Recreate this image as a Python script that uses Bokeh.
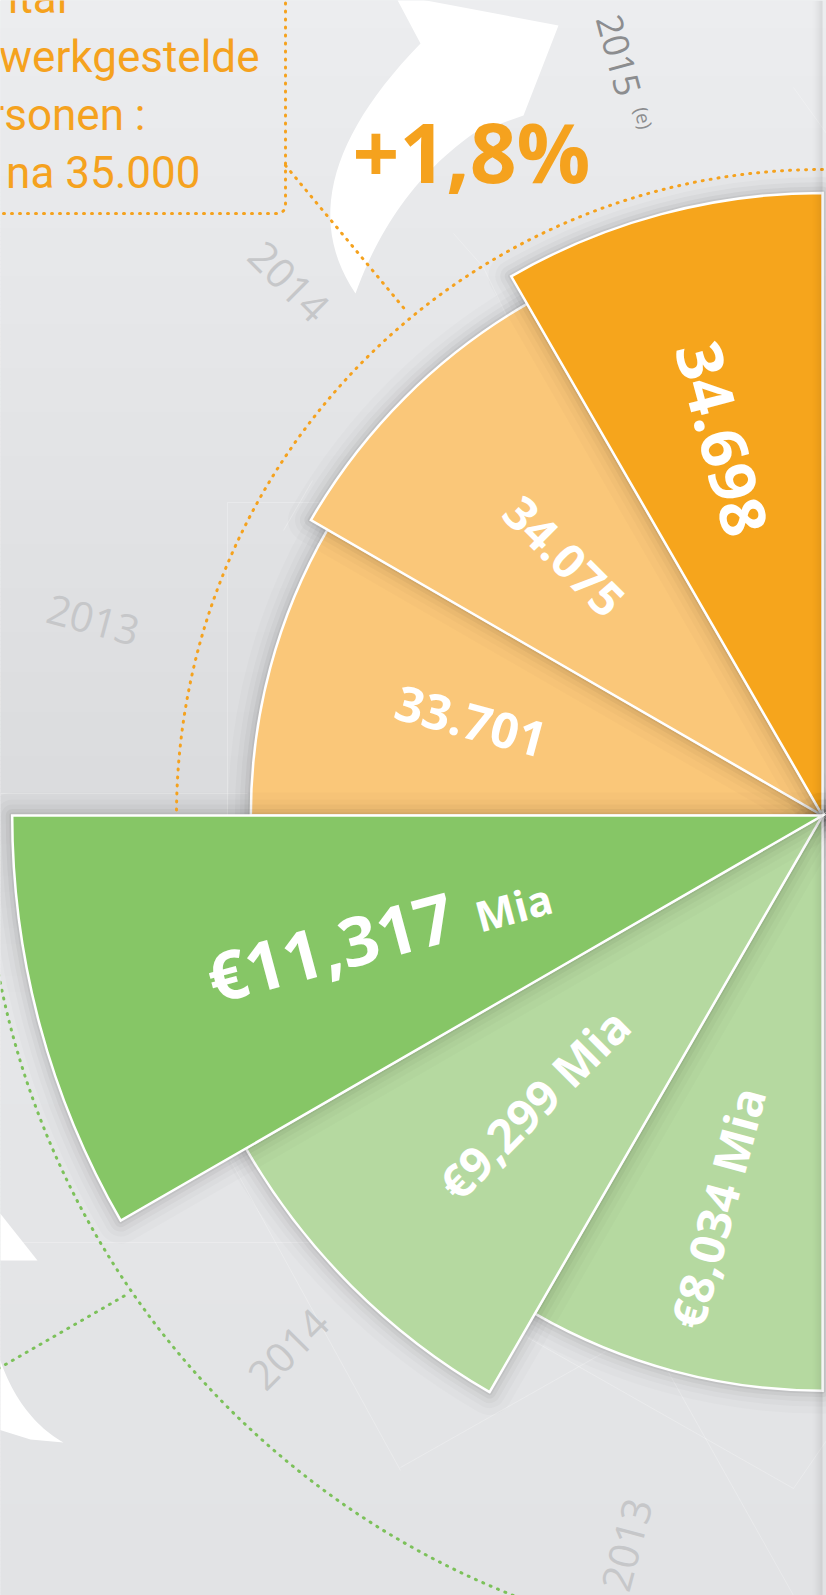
import numpy as np
from bokeh.plotting import figure
from bokeh.models import Range1d
from bokeh.core.properties import value
from bokeh.embed import file_html
from bokeh.resources import INLINE

# ---------------- data ----------------
emp_years = ["2013", "2014", "2015"]
emp_year_note = "(e)"
employees = [33701, 34075, 34698]
emp_labels = ["33.701", "34.075", "34.698"]
rev_years = ["2013", "2014", "2015"]
revenue_mia = [8.034, 9.299, 11.317]
rev_labels = ["€8,034", "€9,299", "€11,317"]
rev_unit = "Mia"
intro_lines = ["ital", "werkgestelde", "rsonen :", "na 35.000"]

# ---------------- style ----------------
ORANGE = "#F6A51C"
ORANGE_L = "#FAC779"
GREEN = "#86C666"
GREEN_L = "#B5D9A0"
ORANGE_TXT = "#F5A21E"
GREEN_DOT = "#7CC15A"
YEAR_GREY = "#C6C7C9"

W, H = 826, 1595
p = figure(width=W, height=H, x_range=Range1d(0, W), y_range=Range1d(-H, 0),
           x_axis_type=None, y_axis_type=None, toolbar_location=None,
           output_backend="svg", min_border=0)
p.outline_line_color = None
p.background_fill_color = "#E2E3E5"
p.border_fill_color = "#E2E3E5"

CX, CY = 822.0, -815.0
MID = 0.36  # cap-centre offset (em) used with text_baseline="middle"


def pt(r, deg):
    a = np.radians(deg)
    return CX + r * np.cos(a), CY + r * np.sin(a)


# ---------------- background gradient ----------------
sy = np.array([0, 300, 650, 815, 1000, 1600])
sc = np.array([[236, 237, 239], [230, 231, 233], [222, 223, 225],
               [218, 219, 221], [229, 230, 232], [226, 227, 229]])
ys = np.arange(0, 1600, 4)
cols = ["#%02x%02x%02x" % tuple(int(round(np.interp(y, sy, sc[:, k]))) for k in range(3)) for y in ys]
p.quad(left=0, right=830, top=-ys, bottom=-(ys + 4), fill_color=cols, line_color=cols, line_width=1)

# faint decorative lines
fl = np.array([(0, 793, 247, 793), (227, 502, 227, 815), (227, 502, 333, 502),
               (283, 530, 312, 480), (0, 1242, 313, 1242), (400, 1467, 607, 1350),
               (527, 1337, 793, 1488), (667, 1370, 793, 1595), (793, 1488, 826, 1440),
               (453, 233, 483, 267), (483, 267, 507, 317), (793, 87, 826, 133),
               (230, 1160, 400, 1470)])
p.segment(x0=fl[:, 0], y0=-fl[:, 1], x1=fl[:, 2], y1=-fl[:, 3], line_color="white",
          line_alpha=0.25, line_width=1)


# ---------------- white arrows ----------------
def qbez(p0, p1, p2, n=28):
    t = np.linspace(0, 1, n)[:, None]
    P0, P1, P2 = map(np.array, (p0, p1, p2))
    return (1 - t) ** 2 * P0 + 2 * (1 - t) * t * P1 + t ** 2 * P2


outer = qbez((355, 293), (282, 185), (420, 43))
head = np.array([(394, -6), (558, 25), (523, 115), (473, 133)])
inner = qbez((473, 133), (392, 190), (355, 293))
arrow = np.vstack([outer, head, inner])
p.patch(arrow[:, 0], -arrow[:, 1], fill_color="white", line_color=None)

tri = np.array([(-5, 1207), (37, 1260), (-5, 1260)])
p.patch(tri[:, 0], -tri[:, 1], fill_color="white", line_color=None)
tail = np.vstack([qbez((-5, 1345), (15, 1415), (63, 1442)), [(30, 1439), (-5, 1428)]])
p.patch(tail[:, 0], -tail[:, 1], fill_color="white", line_color=None)

# ---------------- year labels ----------------
YEAR_R = 755
for i in range(2):
    mid = 90 + 30 * (2 - i) + 15
    x, y = pt(YEAR_R, mid)
    p.text(x=[x], y=[y], text=[emp_years[i]], angle=[np.radians(mid - 180)],
           text_font=value("Open Sans"), text_font_size="41px", text_color=YEAR_GREY,
           text_align="center", text_baseline="middle")
mid = 105
x, y = pt(787, mid)
p.text(x=[x], y=[y], text=[emp_years[2]], angle=[np.radians(mid - 180)],
       text_font=value("Open Sans"), text_font_size="36px", text_color="#8C8D8F",
       text_align="center", text_baseline="middle")
x, y = pt(720, mid - 0.6)
p.text(x=[x], y=[y], text=[emp_year_note], angle=[np.radians(mid - 180)],
       text_font=value("Open Sans"), text_font_size="19px", text_color="#8C8D8F",
       text_align="center", text_baseline="middle")
for i in range(2):
    mid = 180 + 30 * (2 - i) + 15
    x, y = pt(YEAR_R, mid)
    p.text(x=[x], y=[y], text=[rev_years[i]], angle=[np.radians(mid - 180)],
           text_font=value("Open Sans"), text_font_size="41px", text_color=YEAR_GREY,
           text_align="center", text_baseline="middle")


# ---------------- wedges ----------------
def emp_radius(v):
    return 566.5 + (v - 33600) * 0.0511


def rev_radius(v):
    return 71.6 * v


HALO = [(46, 0.014), (32, 0.02), (22, 0.028), (13, 0.038), (6, 0.05)]


def wedge(r, a0, a1, color):
    for w, a in HALO:
        p.wedge(x=CX, y=CY, radius=r, start_angle=np.radians(a0), end_angle=np.radians(a1),
                fill_color=None, line_color="black", line_alpha=a, line_width=w,
                line_join="round")
    p.wedge(x=CX, y=CY, radius=r, start_angle=np.radians(a0), end_angle=np.radians(a1),
            fill_color=color, line_color="white", line_width=2.5, line_join="miter")


emp_cols = [ORANGE_L, ORANGE_L, ORANGE]
for i, v in enumerate(employees):
    a0 = 90 + 30 * (2 - i)
    wedge(emp_radius(v), a0, a0 + 30, emp_cols[i])

rev_cols = [GREEN_L, GREEN_L, GREEN]
for i, v in enumerate(revenue_mia):
    a0 = 180 + 30 * (2 - i)
    wedge(rev_radius(v), a0, a0 + 30, rev_cols[i])

# ---------------- wedge labels ----------------
emp_lab_dist = [364, 366, 390]
emp_lab_size = ["49px", "47px", "63px"]
for i in range(3):
    mid = 90 + 30 * (2 - i) + 15
    x, y = pt(emp_lab_dist[i], mid)
    p.text(x=[x], y=[y], text=[emp_labels[i]], angle=[np.radians(mid - 180)],
           text_font=value("Open Sans"), text_font_style="bold", text_font_size=emp_lab_size[i],
           text_color="white", text_align="center", text_baseline="middle")

rev_lab_dist = [406, 408]
for i in range(2):
    mid = 180 + 30 * (2 - i) + 15
    x, y = pt(rev_lab_dist[i], mid)
    p.text(x=[x], y=[y], text=[rev_labels[i] + " " + rev_unit], angle=[np.radians(mid - 180)],
           text_font=value("Open Sans"), text_font_style="bold", text_font_size="47px",
           text_color="white", text_align="center", text_baseline="middle")

mid = 195
ang = np.radians(mid - 180)
u = np.array([np.cos(ang), np.sin(ang)])
n = np.array([-np.sin(ang), np.cos(ang)])
E = np.array(pt(404, 199)) + 20 * u + 5 * n   # baseline end point of the main figure
big, small = 68, 42
m1 = E + MID * big * n
m2 = E + 22 * u + MID * small * n
p.text(x=[m1[0]], y=[m1[1]], text=[rev_labels[2]], angle=[ang],
       text_font=value("Open Sans"), text_font_style="bold", text_font_size="%dpx" % big,
       text_color="white", text_align="right", text_baseline="middle")
p.text(x=[m2[0]], y=[m2[1]], text=[rev_unit], angle=[ang],
       text_font=value("Open Sans"), text_font_style="bold", text_font_size="%dpx" % small,
       text_color="white", text_align="left", text_baseline="middle")

# ---------------- dotted guides ----------------
DOT = dict(line_width=3, line_dash="1 7", line_cap="round")
p.arc(x=CX, y=CY, radius=646, start_angle=np.radians(90), end_angle=np.radians(180),
      line_color=ORANGE_TXT, **DOT)
p.arc(x=CX, y=CY, radius=839, start_angle=np.radians(180), end_angle=np.radians(270),
      line_color=GREEN_DOT, **DOT)

corner = np.radians(np.linspace(270, 360, 8))
box = np.vstack([[(-5, 213)], np.column_stack([277 + 8 * np.cos(corner), 205 - 8 * np.sin(corner)]),
                 [(285, -5)]])
p.line(box[:, 0], -box[:, 1], line_color=ORANGE_TXT, **DOT)
p.line([285, 407], [-165, -312], line_color=ORANGE_TXT, **DOT)
p.line([-2, 128], [-1368, -1293], line_color=GREEN_DOT, **DOT)

# right-edge fold shadow
sx = np.arange(808, 822, 1.0)
p.quad(left=sx, right=sx + 1, top=0, bottom=-H, fill_color="black",
       fill_alpha=((sx - 808) / 14) ** 2 * 0.10, line_color=None)

# ---------------- texts ----------------
intro_size = 44
intro_base = np.array([13, 72, 130, 188])
p.text(x=[67, 259, 145, 200], y=list(-intro_base + MID * intro_size), text=intro_lines,
       text_font=value("Roboto"), text_font_size="%dpx" % intro_size, text_color=ORANGE_TXT,
       text_align="right", text_baseline="middle")

growth = (employees[2] / employees[1] - 1) * 100
growth_label = ("+%.1f%%" % growth).replace(".", ",")
gsize = 82
p.text(x=[352], y=[-180 + MID * gsize], text=[growth_label], text_font=value("Open Sans"),
       text_font_style="bold", text_font_size="%dpx" % gsize, text_color=ORANGE_TXT,
       text_align="left", text_baseline="middle")

open("out.html", "w").write(file_html(p, INLINE))
